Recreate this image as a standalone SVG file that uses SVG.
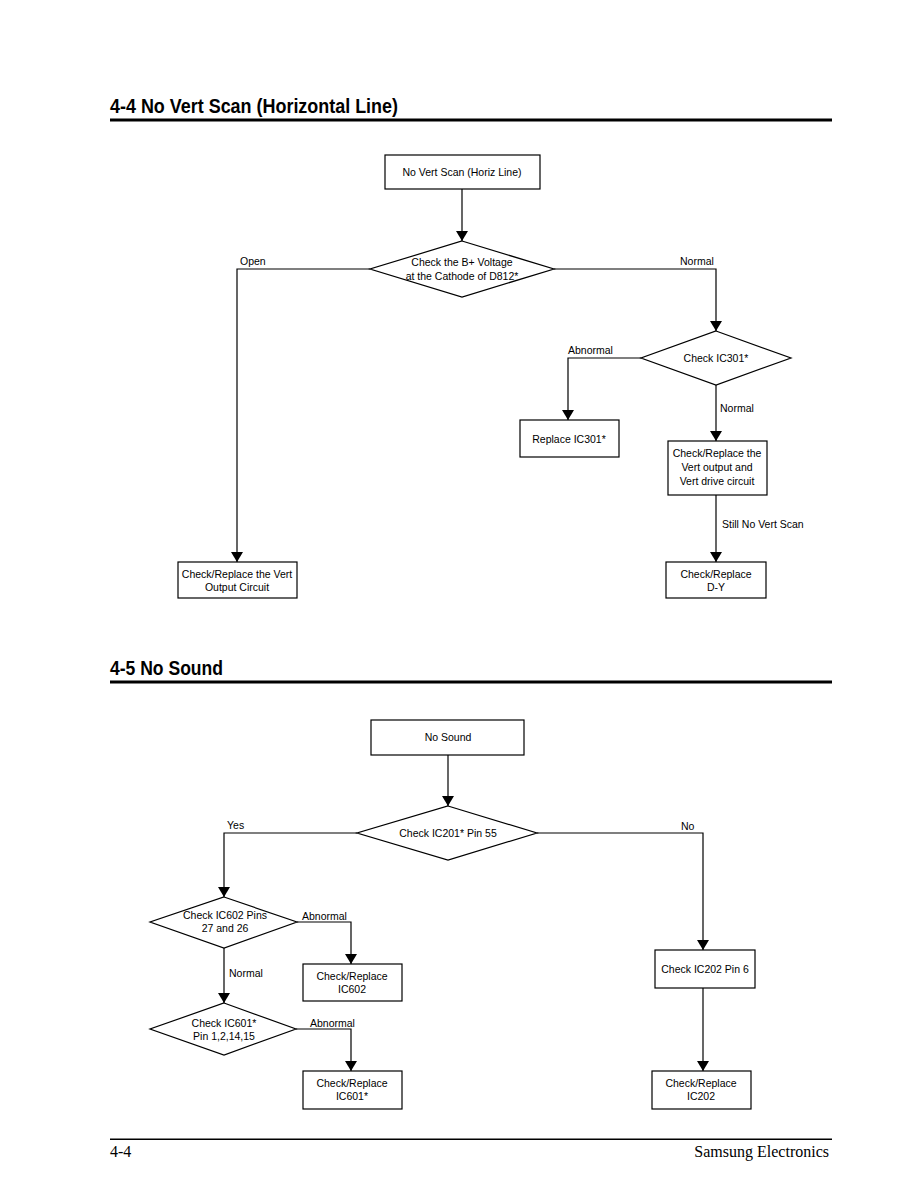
<svg xmlns="http://www.w3.org/2000/svg" width="918" height="1188" viewBox="0 0 918 1188">
<defs>
<marker id="ah" viewBox="0 0 10 12" refX="10" refY="6" markerWidth="10" markerHeight="12" markerUnits="userSpaceOnUse" orient="auto">
<path d="M0,0 L10,6 L0,12 Z" fill="#000"/>
</marker>
<style>
.n{fill:#fff;stroke:#000;stroke-width:1.2}
.c{fill:none;stroke:#000;stroke-width:1.2}
.a{fill:none;stroke:#000;stroke-width:1.2;marker-end:url(#ah)}
.t{font-family:"Liberation Sans Narrow","Liberation Sans",sans-serif;font-size:10.5px;fill:#000}
.m{text-anchor:middle}
.h{font-family:"Liberation Sans Narrow","Liberation Sans",sans-serif;font-weight:bold;font-size:21px;fill:#000}
.f{font-family:"Liberation Serif",serif;font-size:16px;fill:#000}
</style>
</defs>
<rect width="918" height="1188" fill="#fff"/>

<text class="h" x="110" y="113" textLength="288" lengthAdjust="spacingAndGlyphs">4-4 No Vert Scan (Horizontal Line)</text>
<rect x="110" y="118.5" width="722" height="3" fill="#000"/>
<text class="h" x="110" y="675" textLength="113" lengthAdjust="spacingAndGlyphs">4-5 No Sound</text>
<rect x="110" y="680.5" width="722" height="3" fill="#000"/>
<rect x="110" y="1138.5" width="722" height="1.5" fill="#000"/>
<text class="f" x="110" y="1157">4-4</text>
<text class="f" x="829" y="1157" text-anchor="end">Samsung Electronics</text>

<g id="connectors">
<path class="a" d="M462,189 V241"/>
<path class="a" d="M370,269 H237 V562"/>
<path class="a" d="M554,269 H716 V331"/>
<path class="a" d="M641,358 H568 V420"/>
<path class="a" d="M716,385 V441"/>
<path class="a" d="M716,495 V562"/>
<path class="a" d="M448,755 V806"/>
<path class="a" d="M357,833 H224 V897"/>
<path class="a" d="M537,833 H703 V950"/>
<path class="a" d="M297,922 H351 V964"/>
<path class="a" d="M224,948 V1003"/>
<path class="a" d="M296,1029 H351 V1071"/>
<path class="a" d="M703,988 V1071"/>
<text class="t" x="240" y="265">Open</text>
<text class="t" x="680" y="265">Normal</text>
<text class="t" x="568" y="354">Abnormal</text>
<text class="t" x="720" y="412">Normal</text>
<text class="t" x="722" y="528">Still No Vert Scan</text>
<text class="t" x="227" y="829">Yes</text>
<text class="t" x="681" y="830">No</text>
<text class="t" x="302" y="920">Abnormal</text>
<text class="t" x="229" y="977">Normal</text>
<text class="t" x="310" y="1027">Abnormal</text>
</g>

<g id="n1"><rect class="n" x="385" y="155" width="155" height="34"/><text class="t m" x="462" y="176">No Vert Scan (Horiz Line)</text></g>
<g id="n2"><polygon class="n" points="462,241 554,269 462,297 370,269"/><text class="t m" x="462" y="266">Check the B+ Voltage</text><text class="t m" x="462" y="280">at the Cathode of D812*</text></g>
<g id="n3"><polygon class="n" points="716,331 791,358 716,385 641,358"/><text class="t m" x="716" y="362">Check IC301*</text></g>
<g id="n4"><rect class="n" x="520" y="420" width="99" height="37"/><text class="t m" x="569" y="443">Replace IC301*</text></g>
<g id="n5"><rect class="n" x="668" y="441" width="99" height="54"/><text class="t m" x="717" y="457">Check/Replace the</text><text class="t m" x="717" y="471">Vert output and</text><text class="t m" x="717" y="485">Vert drive circuit</text></g>
<g id="n6"><rect class="n" x="666" y="562" width="100" height="36"/><text class="t m" x="716" y="578">Check/Replace</text><text class="t m" x="716" y="591">D-Y</text></g>
<g id="n7"><rect class="n" x="178" y="562" width="119" height="36"/><text class="t m" x="237" y="578">Check/Replace the Vert</text><text class="t m" x="237" y="591">Output Circuit</text></g>

<g id="n8"><rect class="n" x="371" y="720" width="153" height="35"/><text class="t m" x="448" y="741">No Sound</text></g>
<g id="n9"><polygon class="n" points="448,806 537,833 448,860 357,833"/><text class="t m" x="448" y="837">Check IC201* Pin 55</text></g>
<g id="n10"><polygon class="n" points="224,897 297,922 224,948 150,922"/><text class="t m" x="225" y="919">Check IC602 Pins</text><text class="t m" x="225" y="932">27 and 26</text></g>
<g id="n11"><rect class="n" x="303" y="964" width="99" height="37"/><text class="t m" x="352" y="980">Check/Replace</text><text class="t m" x="352" y="993">IC602</text></g>
<g id="n12"><polygon class="n" points="224,1003 296,1029 224,1055 150,1029"/><text class="t m" x="224" y="1027">Check IC601*</text><text class="t m" x="224" y="1040">Pin 1,2,14,15</text></g>
<g id="n13"><rect class="n" x="303" y="1071" width="99" height="38"/><text class="t m" x="352" y="1087">Check/Replace</text><text class="t m" x="352" y="1100">IC601*</text></g>
<g id="n14"><rect class="n" x="655" y="950" width="100" height="38"/><text class="t m" x="705" y="973">Check IC202 Pin 6</text></g>
<g id="n15"><rect class="n" x="652" y="1071" width="99" height="38"/><text class="t m" x="701" y="1087">Check/Replace</text><text class="t m" x="701" y="1100">IC202</text></g>
</svg>
